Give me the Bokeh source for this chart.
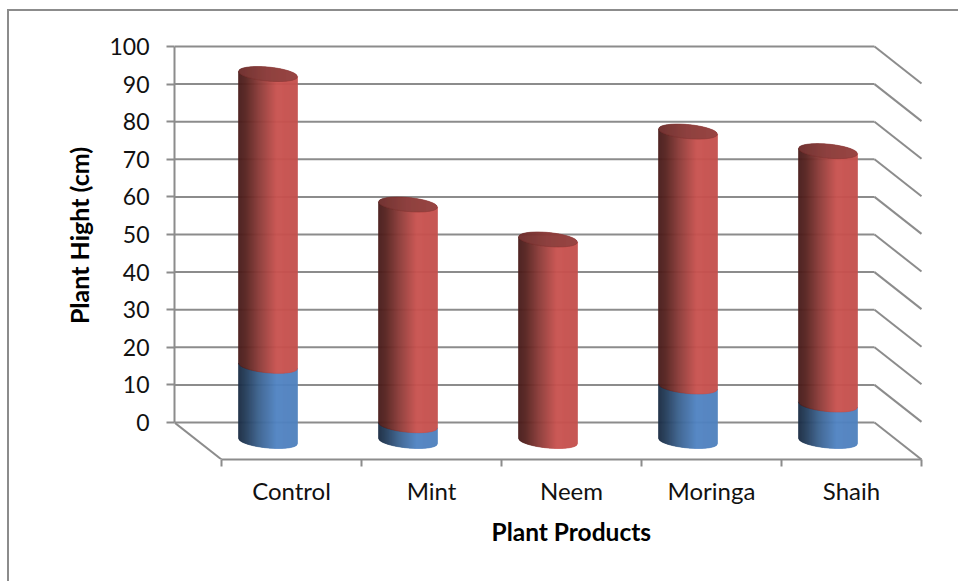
import numpy as np
from bokeh.embed import file_html
from bokeh.models import FixedTicker, LinearAxis, Range1d, Title
from bokeh.plotting import figure
from bokeh.resources import INLINE

# Chart data
categories = ["Control", "Mint", "Neem", "Moringa", "Shaih"]
lower_series = [20.0, 4.2, 0.0, 14.5, 9.7]
upper_series = [77.6, 58.7, 53.6, 67.8, 67.4]
value_ticks = [0, 10, 20, 30, 40, 50, 60, 70, 80, 90, 100]

# Oblique floor depth, in x categories and y value units
DEPTH_X = 47 / 140
DEPTH_Y = 37 / 3.76
GRID = "#8c8c8c"
TEXT = "#111111"
FONT = "Lato"

# Cylinder cross-section
RADIUS_X = 29.5 / 140
RADIUS_Y = 7.0 / 3.76
SKEW = -0.09 * 140 / 3.76
STRIPS = 59

RED_STOPS = [(0.0, "#481c1b"), (0.12, "#56221f"), (0.35, "#8a3a37"), (0.65, "#c8524f"), (1.0, "#c4504d")]
BLUE_STOPS = [(0.0, "#1a2c42"), (0.12, "#233b58"), (0.35, "#3b628f"), (0.65, "#5083c2"), (1.0, "#4f81bd")]
CAP_STOPS = [(0.0, "#6b2b29"), (0.5, "#8a3937"), (1.0, "#943d3b")]


def shade(stops, t):
    positions = [s[0] for s in stops]
    channels = []
    for c in range(3):
        levels = [int(s[1][1 + 2 * c:3 + 2 * c], 16) for s in stops]
        channels.append(int(round(np.interp(t, positions, levels))))
    return "#%02x%02x%02x" % tuple(channels)


# The outer chart frame is painted behind the canvas as two thin background bands
band = f"linear-gradient({GRID},{GRID})"
p = figure(
    width=958, height=581, output_backend="svg", toolbar_location=None,
    x_range=Range1d(-47 / 140, 737 / 140), y_range=Range1d(-37 / 3.76, 411 / 3.76),
    x_axis_type=None, y_axis_type=None,
    min_border_left=174, min_border_right=0, min_border_top=11, min_border_bottom=122,
    outline_line_color=None, background_fill_color="white", border_fill_color=None,
    styles={
        "background-image": f"{band},{band}",
        "background-size": "951px 2px,2px 572px",
        "background-position": "7px 9px,7px 9px",
        "background-repeat": "no-repeat",
    },
)
p.xgrid.visible = False
p.ygrid.visible = False

# Back wall and right side wall grid
n = len(categories)
back_end = n - DEPTH_X
p.segment(x0=[-DEPTH_X] * len(value_ticks), x1=[back_end] * len(value_ticks),
          y0=value_ticks, y1=value_ticks, line_color=GRID, line_width=2)
p.segment(x0=[back_end] * len(value_ticks), x1=[n] * len(value_ticks),
          y0=value_ticks, y1=[v - DEPTH_Y for v in value_ticks], line_color=GRID, line_width=2)
# Left edge of the floor
p.segment(x0=[-DEPTH_X], x1=[0], y0=[0], y1=[-DEPTH_Y], line_color=GRID, line_width=2)


def lower_edge(cx, level, x):
    u = np.clip((x - cx) / RADIUS_X, -1, 1)
    return level + SKEW * (x - cx) - RADIUS_Y * np.sqrt(1 - u * u)


def upper_edge(cx, level, x):
    u = np.clip((x - cx) / RADIUS_X, -1, 1)
    return level + SKEW * (x - cx) + RADIUS_Y * np.sqrt(1 - u * u)


def strips(cx, y_low, y_high, stops):
    xs, ys, colors = [], [], []
    edges = np.linspace(cx - RADIUS_X, cx + RADIUS_X, STRIPS + 1)
    for i in range(STRIPS):
        a, b = edges[i], edges[i + 1]
        xs.append([a, b, b, a])
        ys.append([y_low(a), y_low(b), y_high(b), y_high(a)])
        colors.append(shade(stops, (i + 0.5) / STRIPS))
    p.patches(xs, ys, fill_color=colors, line_color=colors, line_width=0.6)


# Stacked cylinders stand at mid depth on the floor
for i, (lo, up) in enumerate(zip(lower_series, upper_series)):
    cx = i + 0.5 - DEPTH_X / 2
    base = -DEPTH_Y / 2
    seam = base + lo
    top = seam + up
    if lo > 0:
        strips(cx, lambda x, c=cx, l=base: lower_edge(c, l, x),
               lambda x, c=cx, l=seam: lower_edge(c, l, x), BLUE_STOPS)
    strips(cx, lambda x, c=cx, l=seam: lower_edge(c, l, x),
           lambda x, c=cx, l=top: lower_edge(c, l, x), RED_STOPS)
    strips(cx, lambda x, c=cx, l=top: lower_edge(c, l, x),
           lambda x, c=cx, l=top: upper_edge(c, l, x), CAP_STOPS)

# Value axis
y_axis = LinearAxis(
    ticker=FixedTicker(ticks=value_ticks), bounds=(0, 100),
    axis_label="Plant Hight (cm)", axis_label_text_font=FONT, axis_label_text_font_style="bold",
    axis_label_text_font_size="25px", axis_label_text_color="#000000", axis_label_standoff=12,
    major_label_text_font=FONT, major_label_text_font_size="23px", major_label_text_color=TEXT,
    major_label_standoff=17, major_tick_in=0, major_tick_out=8, minor_tick_in=0, minor_tick_out=0,
    axis_line_color=GRID, axis_line_width=2, major_tick_line_color=GRID, major_tick_line_width=2,
)
p.add_layout(y_axis, "left")

# Category axis: labels sit between the tick marks
label_positions = [i + 0.5 for i in range(n)]
x_axis = LinearAxis(
    ticker=FixedTicker(ticks=label_positions, minor_ticks=list(range(n + 1))), bounds=(0, n),
    major_label_overrides=dict(zip(label_positions, categories)),
    major_label_text_font=FONT, major_label_text_font_size="24px", major_label_text_color=TEXT,
    major_label_standoff=9, major_tick_in=0, major_tick_out=0, minor_tick_in=0, minor_tick_out=7,
    axis_line_color=GRID, axis_line_width=2, minor_tick_line_color=GRID, minor_tick_line_width=2,
)
p.add_layout(x_axis, "below")
p.add_layout(Title(
    text="Plant Products", align="left", offset=317, standoff=14,
    text_font=FONT, text_font_style="bold", text_font_size="24.5px", text_color="#000000",
), "below")

open("out.html", "w").write(file_html(p, INLINE))
